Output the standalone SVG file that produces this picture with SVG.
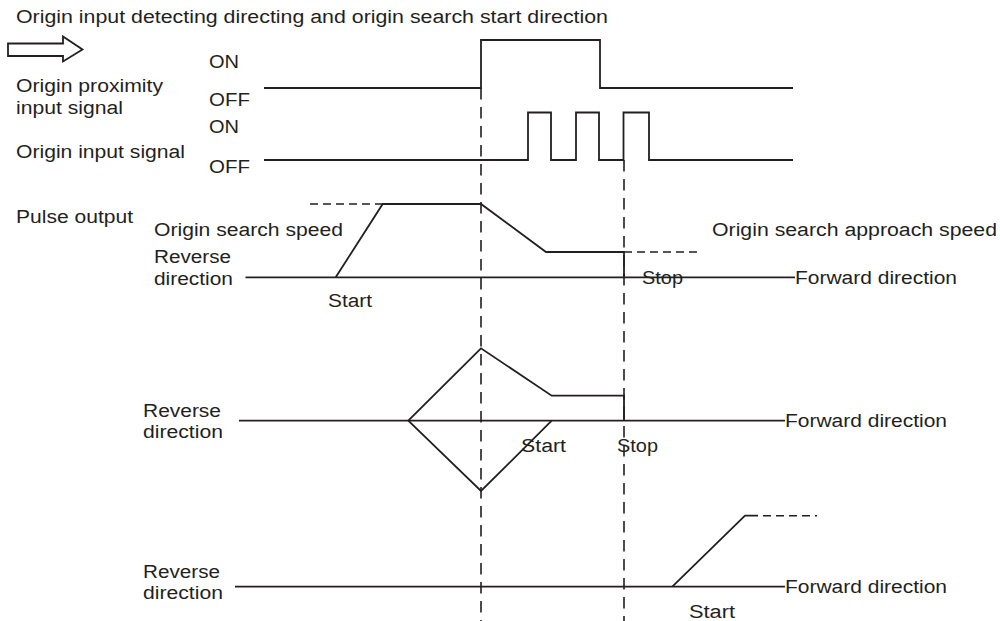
<svg xmlns="http://www.w3.org/2000/svg" width="1000" height="621" viewBox="0 0 1000 621">
<style>
text{font-family:"Liberation Sans",Arial,sans-serif;font-size:18px;fill:#231f20}
.s{fill:none;stroke:#231f20;stroke-width:1.8;stroke-linejoin:miter}
.d{fill:none;stroke:#231f20;stroke-width:1.6;stroke-dasharray:11.5 7.5}
.h{fill:none;stroke:#231f20;stroke-width:1.6;stroke-dasharray:8 5}
</style>
<rect width="1000" height="621" fill="#fff"/>
<g id="title">
<text x="16" y="23" textLength="592" lengthAdjust="spacingAndGlyphs">Origin input detecting directing and origin search start direction</text>
<polygon class="s" stroke-width="1.5" points="8,43.5 63,43.5 63,36.5 82.5,49.5 63,61.5 63,56 8,56"/>
</g>
<g id="labels">
<text x="209" y="68" textLength="30" lengthAdjust="spacingAndGlyphs">ON</text>
<text x="16" y="92" textLength="147" lengthAdjust="spacingAndGlyphs">Origin proximity</text>
<text x="16" y="114" textLength="107" lengthAdjust="spacingAndGlyphs">input signal</text>
<text x="209" y="106" textLength="41" lengthAdjust="spacingAndGlyphs">OFF</text>
<text x="209" y="133" textLength="30" lengthAdjust="spacingAndGlyphs">ON</text>
<text x="16" y="158" textLength="169" lengthAdjust="spacingAndGlyphs">Origin input signal</text>
<text x="209" y="173" textLength="41" lengthAdjust="spacingAndGlyphs">OFF</text>
<text x="16" y="223" textLength="117" lengthAdjust="spacingAndGlyphs">Pulse output</text>
</g>
<g id="connectors">
<line class="d" x1="481" y1="88" x2="481" y2="621"/>
<line class="d" x1="624" y1="160" x2="624" y2="621"/>
</g>
<g id="proximity-signal">
<polyline class="s" points="264,88 481,88 481,40 600,40 600,88 793,88"/>
</g>
<g id="origin-signal">
<polyline class="s" points="264,160 528,160 528,112.5 551,112.5 551,160 576,160 576,112.5 599,112.5 599,160 623.5,160 623.5,112.5 649,112.5 649,160 793,160"/>
</g>
<g id="pulse-1">
<text x="154" y="236" textLength="189" lengthAdjust="spacingAndGlyphs">Origin search speed</text>
<text x="154" y="263" textLength="77" lengthAdjust="spacingAndGlyphs">Reverse</text>
<text x="154" y="285" textLength="79" lengthAdjust="spacingAndGlyphs">direction</text>
<text x="328" y="307" textLength="44" lengthAdjust="spacingAndGlyphs">Start</text>
<text x="712" y="236" textLength="285" lengthAdjust="spacingAndGlyphs">Origin search approach speed</text>
<text x="642" y="284" textLength="41" lengthAdjust="spacingAndGlyphs">Stop</text>
<text x="795" y="284" textLength="162" lengthAdjust="spacingAndGlyphs">Forward direction</text>
<line class="s" x1="245.5" y1="277.3" x2="795" y2="277.3"/>
<polyline class="s" points="335.7,277.3 382.7,204 481,204 546,252 624,252 624,277.3"/>
<line class="h" x1="310" y1="204" x2="382" y2="204"/>
<line class="h" x1="624" y1="252" x2="698" y2="252"/>
</g>
<g id="pulse-2">
<text x="143" y="417" textLength="78" lengthAdjust="spacingAndGlyphs">Reverse</text>
<text x="143" y="438" textLength="80" lengthAdjust="spacingAndGlyphs">direction</text>
<text x="521" y="452" textLength="45" lengthAdjust="spacingAndGlyphs">Start</text>
<text x="617" y="452" textLength="41" lengthAdjust="spacingAndGlyphs">Stop</text>
<text x="785" y="427" textLength="162" lengthAdjust="spacingAndGlyphs">Forward direction</text>
<line class="s" x1="239" y1="420.7" x2="785" y2="420.7"/>
<polyline class="s" points="408.3,420.7 481,348.3 551.7,395.7 624,395.7 624,420.7"/>
<polyline class="s" points="408.3,420.7 481,491 551.7,420.7"/>
</g>
<g id="pulse-3">
<text x="143" y="578" textLength="77" lengthAdjust="spacingAndGlyphs">Reverse</text>
<text x="143" y="599" textLength="80" lengthAdjust="spacingAndGlyphs">direction</text>
<text x="785" y="593" textLength="162" lengthAdjust="spacingAndGlyphs">Forward direction</text>
<text x="689" y="618" textLength="46" lengthAdjust="spacingAndGlyphs">Start</text>
<line class="s" x1="235" y1="586.7" x2="785" y2="586.7"/>
<polyline class="s" points="672.3,586.7 745,515.7 758,515.7"/>
<line class="h" x1="763" y1="515.7" x2="817" y2="515.7"/>
</g>
</svg>
